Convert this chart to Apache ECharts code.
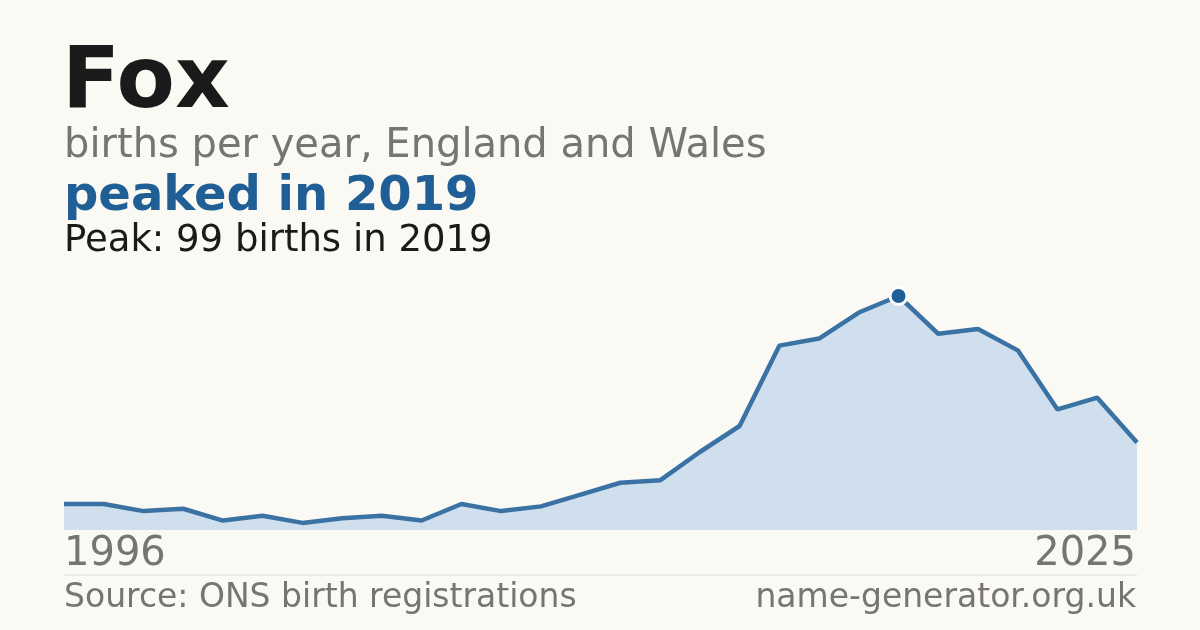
<!DOCTYPE html>
<html><head><meta charset="utf-8">
<script src="https://cdn.jsdelivr.net/npm/echarts@6/dist/echarts.min.js"></script>
<style>html,body{margin:0;background:#faf9f4}#c{width:1200px;height:630px}</style>
</head><body><div id="c"></div>
<script>
const categories = ['1996','1997','1998','1999','2000','2001','2002','2003','2004','2005','2006','2007','2008','2009','2010','2011','2012','2013','2014','2015','2016','2019','2020','2021','2022','2023','2024','2025'];
const births = [11,11,8,9,4,6,3,5,6,4,11,8,10,15,20,21,33,44,78,81,92,99,83,85,76,51,56,37];
const startLabel = '1996', endLabel = '2025';
const peakIndex = births.indexOf(Math.max(...births));
const F = 'DejaVu Sans';
const chart = echarts.init(document.getElementById('c'));
chart.setOption({
  backgroundColor:'#faf9f4',
  animation:false,
  grid:{left:64,right:63,top:296,bottom:100},
  xAxis:{type:'category',data:categories,boundaryGap:false,axisLine:{show:false},axisTick:{show:false},axisLabel:{show:false},splitLine:{show:false}},
  yAxis:{type:'value',min:0,max:99,show:false},
  series:[{type:'line',data:births,symbol:'none',smooth:false,
    lineStyle:{color:'#3a72a3',width:4.5},
    areaStyle:{color:'#cfdfee',opacity:1},
    markPoint:{symbol:'circle',symbolSize:17,itemStyle:{color:'#1f5f95',borderColor:'#fff',borderWidth:3},label:{show:false},
      data:[{coord:[peakIndex,births[peakIndex]]}]}
  }],
  graphic:[
    {type:'text',left:62,top:42,style:{text:'Fox',font:'bold 85px '+F,fill:'#1a1a1a'}},
    {type:'text',left:64,top:127,style:{text:'births per year, England and Wales',font:'40px '+F,fill:'#777570'}},
    {type:'text',left:64,top:174,style:{text:'peaked in 2019',font:'bold 48px '+F,fill:'#1f5f95'}},
    {type:'text',left:64,top:223,style:{text:'Peak: 99 births in 2019',font:'37px '+F,fill:'#1a1a1a'}},
    {type:'text',left:64,top:535,style:{text:startLabel,font:'40px '+F,fill:'#777570'}},
    {type:'text',right:64,top:535,style:{text:endLabel,font:'40px '+F,fill:'#777570'}},
    {type:'line',shape:{x1:64,y1:575,x2:1137,y2:575},style:{stroke:'#dddbd4',lineWidth:1}},
    {type:'text',left:64,top:582,style:{text:'Source: ONS birth registrations',font:'33px '+F,fill:'#777570'}},
    {type:'text',right:64,top:582,style:{text:'name-generator.org.uk',font:'33px '+F,fill:'#777570'}}
  ]
});
</script></body></html>
